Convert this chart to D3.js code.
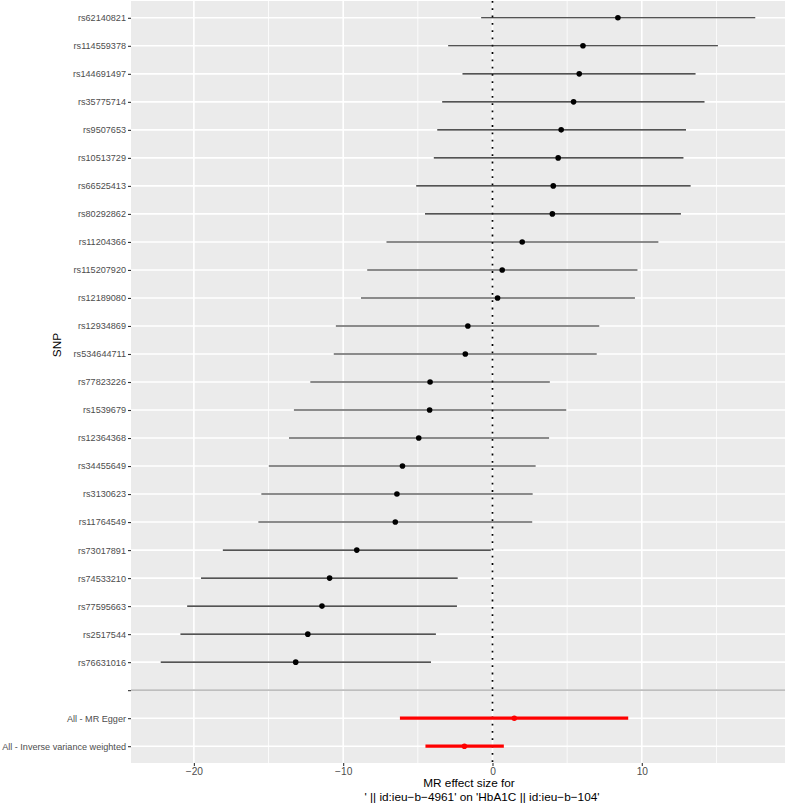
<!DOCTYPE html>
<html>
<head>
<meta charset="utf-8">
<script src="https://d3js.org/d3.v7.min.js"></script>
<style>
  body{
      margin: 0;
      background-color: white;
  }
  svg{
      display: block;
      font-family: "Liberation Sans", Arial, sans-serif;
  }
</style>
</head>
<body>
<script>
    var svgWidth = 786;
    var svgHeight = 803;

    // SNP estimates (top to bottom)
    var snps = ["rs62140821", "rs114559378", "rs144691497", "rs35775714", "rs9507653",
        "rs10513729", "rs66525413", "rs80292862", "rs11204366", "rs115207920",
        "rs12189080", "rs12934869", "rs534644711", "rs77823226", "rs1539679",
        "rs12364368", "rs34455649", "rs3130623", "rs11764549", "rs73017891",
        "rs74533210", "rs77595663", "rs2517544", "rs76631016"];
    var snpB = [8.40, 6.06, 5.81, 5.43, 4.60, 4.40, 4.07, 4.01, 1.99, 0.65,
        0.34, -1.65, -1.82, -4.18, -4.21, -4.94, -6.03, -6.40, -6.51, -9.09,
        -10.91, -11.42, -12.37, -13.18];
    var snpLo = [-0.76, -2.97, -2.01, -3.37, -3.70, -3.93, -5.11, -4.52, -7.10, -8.39,
        -8.81, -10.49, -10.63, -12.20, -13.30, -13.63, -14.98, -15.48, -15.68, -18.06,
        -19.52, -20.45, -20.90, -22.22];
    var snpUp = [17.60, 15.10, 13.60, 14.20, 12.96, 12.79, 13.27, 12.62, 11.11, 9.71,
        9.54, 7.15, 6.98, 3.84, 4.94, 3.79, 2.89, 2.69, 2.66, -0.11,
        -2.33, -2.38, -3.79, -4.12];

    // combined estimates
    var methods = ["All - MR Egger", "All - Inverse variance weighted"];
    var methodB = [1.46, -1.88];
    var methodLo = [-6.20, -4.49];
    var methodUp = [9.09, 0.76];

    var xTicks = [-20, -10, 0, 10];
    var xMinor = [-15, -5, 5, 15];
    var xTitle = ["MR effect size for", "' || id:ieu\u2212b\u22124961' on 'HbA1C || id:ieu\u2212b\u2212104'"];

    var rows = [];
    snps.forEach(function(s, i) {
        rows.push({name: s, b: snpB[i], lo: snpLo[i], up: snpUp[i], tot: false});
    });
    methods.forEach(function(m, i) {
        rows.push({name: m, b: methodB[i], lo: methodLo[i], up: methodUp[i], tot: true});
    });

    var panel = {left: 131, right: 785, top: 1, bottom: 763};

    var svg = d3.select("body")
        .append("svg")
        .attr("width", svgWidth)
        .attr("height", svgHeight);

    // scales
    var ext = d3.extent(rows.map(function(d) {return d.lo;}).concat(rows.map(function(d) {return d.up;})));
    var pad = (ext[1] - ext[0]) * 0.05;
    var x = d3.scaleLinear()
        .domain([ext[0] - pad, ext[1] + pad])
        .range([panel.left, panel.right]);

    var levels = snps.concat([""]).concat(methods);
    var y = d3.scalePoint()
        .domain(levels)
        .range([panel.top, panel.bottom])
        .padding(0.6);

    // panel background
    svg.append("rect")
        .attr("x", panel.left)
        .attr("y", panel.top)
        .attr("width", panel.right - panel.left)
        .attr("height", panel.bottom - panel.top)
        .attr("fill", "#ebebeb");

    // grid
    svg.selectAll(".minor")
        .data(xMinor)
        .enter().append("line")
        .attr("x1", function(d) {return x(d);})
        .attr("x2", function(d) {return x(d);})
        .attr("y1", panel.top)
        .attr("y2", panel.bottom)
        .attr("stroke", "white")
        .attr("stroke-width", 0.8);

    svg.selectAll(".majorx")
        .data(xTicks)
        .enter().append("line")
        .attr("x1", function(d) {return x(d);})
        .attr("x2", function(d) {return x(d);})
        .attr("y1", panel.top)
        .attr("y2", panel.bottom)
        .attr("stroke", "white")
        .attr("stroke-width", 1.6);

    svg.selectAll(".majory")
        .data(levels)
        .enter().append("line")
        .attr("x1", panel.left)
        .attr("x2", panel.right)
        .attr("y1", function(d) {return y(d);})
        .attr("y2", function(d) {return y(d);})
        .attr("stroke", "white")
        .attr("stroke-width", 1.6);

    // zero line
    svg.append("line")
        .attr("x1", x(0))
        .attr("x2", x(0))
        .attr("y1", panel.top)
        .attr("y2", panel.bottom)
        .attr("stroke", "black")
        .attr("stroke-width", 1.7)
        .attr("stroke-dasharray", "1.8,5.5");

    // error bars
    svg.selectAll(".bar")
        .data(rows)
        .enter().append("line")
        .attr("x1", function(d) {return x(d.lo);})
        .attr("x2", function(d) {return x(d.up);})
        .attr("y1", function(d) {return y(d.name);})
        .attr("y2", function(d) {return y(d.name);})
        .attr("stroke", function(d) {return d.tot ? "red" : "#1a1a1a";})
        .attr("stroke-width", function(d) {return d.tot ? 3.3 : 1.1;});

    // points
    svg.selectAll(".pt")
        .data(rows)
        .enter().append("circle")
        .attr("cx", function(d) {return x(d.b);})
        .attr("cy", function(d) {return y(d.name);})
        .attr("r", 2.8)
        .attr("fill", function(d) {return d.tot ? "red" : "black";});

    // separator
    svg.append("line")
        .attr("x1", panel.left)
        .attr("x2", panel.right)
        .attr("y1", y(""))
        .attr("y2", y(""))
        .attr("stroke", "#bebebe")
        .attr("stroke-width", 1.6);

    // axes
    var xAxis = svg.append("g")
        .attr("transform", "translate(0," + panel.bottom + ")")
        .call(d3.axisBottom(x).tickValues(xTicks).tickSize(3).tickPadding(2));
    xAxis.select(".domain").remove();
    xAxis.selectAll("line").attr("stroke", "#333333").attr("stroke-width", 1.1);
    xAxis.selectAll("text")
        .attr("font-family", "Liberation Sans, Arial, sans-serif")
        .attr("font-size", 10.2)
        .attr("fill", "#4d4d4d");

    var yAxis = svg.append("g")
        .attr("transform", "translate(" + panel.left + ",0)")
        .call(d3.axisLeft(y).tickSize(3).tickPadding(2));
    yAxis.select(".domain").remove();
    yAxis.selectAll("line").attr("stroke", "#333333").attr("stroke-width", 1.1);
    yAxis.selectAll("text")
        .attr("font-family", "Liberation Sans, Arial, sans-serif")
        .attr("font-size", 9.1)
        .attr("fill", "#4d4d4d");

    // titles
    svg.append("text")
        .attr("x", 469)
        .attr("y", 787)
        .attr("text-anchor", "middle")
        .attr("font-size", 11.8)
        .attr("fill", "black")
        .text(xTitle[0]);
    svg.append("text")
        .attr("x", 482)
        .attr("y", 801)
        .attr("text-anchor", "middle")
        .attr("font-size", 11.8)
        .attr("fill", "black")
        .text(xTitle[1]);

    svg.append("text")
        .attr("transform", "translate(61,345) rotate(-90)")
        .attr("text-anchor", "middle")
        .attr("font-size", 11.8)
        .attr("fill", "black")
        .text("SNP");
</script>
</body>
</html>
